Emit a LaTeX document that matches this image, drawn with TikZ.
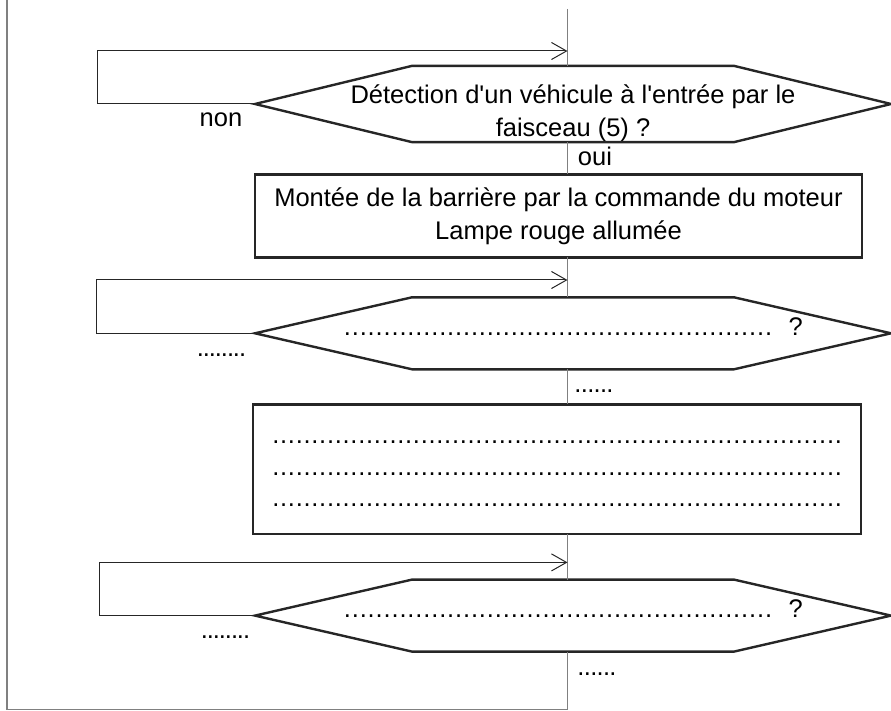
\documentclass[tikz,border=0pt]{standalone}
\usepackage{fontspec}
\setmainfont{Liberation Sans}
\usepackage{tikz}
\usetikzlibrary{arrows.meta,positioning}

% rangee de points a espacement fixe
\newcommand{\pointilles}[2][7.8pt]{\hbox to #2{\xleaders\hbox to #1{\hss.\hss}\hfill}}
% contour hexagonal autour d'un noeud test
\newcommand{\hexagone}[1]{\draw[contour] (#1.west) -- ([xshift=157pt]#1.north west)
      -- ([xshift=-157pt]#1.north east) -- (#1.east) -- ([xshift=-157pt]#1.south east)
      -- ([xshift=157pt]#1.south west) -- cycle;}

\begin{document}
\begin{tikzpicture}[
      x=1pt, y=-1pt,
      every node/.style={font=\fontsize{25.5}{33}\selectfont},
      test/.style={rectangle, inner sep=0pt, outer sep=0pt,
            minimum width=636pt, minimum height=72pt, align=center},
      contour/.style={draw=black!85, line width=2.4pt, line join=miter},
      action/.style={rectangle, draw=black!85, line width=2.4pt, inner sep=0pt,
            outer sep=0pt, minimum width=607pt, align=center},
      lbl/.style={inner sep=0pt},
      tronc/.style={draw=black!50, line width=1.1pt},
      retour/.style={-{Straight Barb[length=15pt,width=17pt]}, draw=black!85, line width=1pt}
]
      \useasboundingbox (0,0) rectangle (891,711);

      \coordinate (haut) at (567.5,9);
      \coordinate (bas) at (567.5,709.5);
      \coordinate (coin) at (7,709.5);
      \coordinate (bord) at (7,0);

      \node[test] (q1) at (573,104) {\rule{0pt}{38pt}Détection d\textquotesingle un véhicule à l\textquotesingle entrée par le\\faisceau (5) ?};
      \node[action, minimum height=83pt] (a1) at (558.5,216) {Montée de la barrière par la commande du moteur\\Lampe rouge allumée};
      \node[test, text height=12pt, text depth=7.4pt] (q2) at (573,333.3) {\pointilles{429pt}\hspace{16pt}?};
      \node[action, minimum width=608pt, minimum height=129.5pt,
            font=\fontsize{25.5}{31.7}\selectfont] (a2) at (557,469.2)
            {\rule{0pt}{12pt}\pointilles{570pt}\\\pointilles{570pt}\\\pointilles{570pt}};
      \node[test, text height=12pt, text depth=7.4pt] (q3) at (573,615.6) {\pointilles{429pt}\hspace{16pt}?};

      \hexagone{q1}
      \hexagone{q2}
      \hexagone{q3}

      \node[lbl] (non) at (221,120) {non};
      \node[lbl] (oui) at (595,156.5) {oui};
      \node[lbl] (non2) at (221.5,355) {\pointilles[6pt]{48pt}};
      \node[lbl] (oui2) at (594,391) {\pointilles[6.4pt]{38.4pt}};
      \node[lbl] (non3) at (225.5,637) {\pointilles[6pt]{48pt}};
      \node[lbl] (oui3) at (597,674) {\pointilles[6.4pt]{38.4pt}};

      \coordinate (r1) at (97,51);
      \coordinate (e1) at (567.5,51);
      \coordinate (r2) at (96,280);
      \coordinate (e2) at (567.5,280);
      \coordinate (r3) at (99,562.4);
      \coordinate (e3) at (567.5,562.4);

      \draw[tronc] (haut) -- (haut |- q1.north);
      \draw[tronc] (q1.south -| haut) -- (a1.north -| haut);
      \draw[tronc] (a1.south -| haut) -- (q2.north -| haut);
      \draw[tronc] (q2.south -| haut) -- (a2.north -| haut);
      \draw[tronc] (a2.south -| haut) -- (q3.north -| haut);
      \draw[tronc] (q3.south -| haut) -- (bas) -- (coin) -- (bord);

      \draw[retour] (q1.west) -| (r1) -- (e1);
      \draw[retour] (q2.west) -| (r2) -- (e2);
      \draw[retour] (q3.west) -| (r3) -- (e3);
\end{tikzpicture}
\end{document}
